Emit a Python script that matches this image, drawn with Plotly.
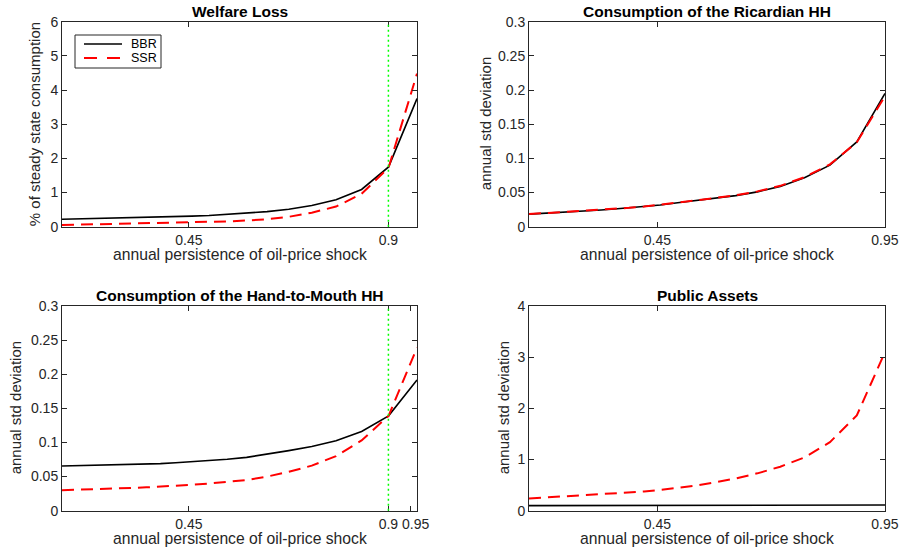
import plotly.graph_objects as go

# ---------------- data ----------------
x_left = [0.1636, 0.1817, 0.2013, 0.2224, 0.2451, 0.2695, 0.2957, 0.3237, 0.3538, 0.3858, 0.4199,
          0.4565, 0.4953, 0.5364, 0.5801, 0.6263, 0.6752, 0.7271, 0.7818, 0.8395, 0.9004, 0.9645]
x_right = [0.1680, 0.1860, 0.2055, 0.2264, 0.2489, 0.2730, 0.2989, 0.3265, 0.3560, 0.3875, 0.4210,
           0.4566, 0.4945, 0.5346, 0.5772, 0.6222, 0.6698, 0.7201, 0.7732, 0.8292, 0.8882, 0.9502]

welfare_bbr = [0.22, 0.225, 0.23, 0.235, 0.24, 0.245, 0.25, 0.26, 0.27, 0.28, 0.295,
               0.31, 0.33, 0.36, 0.39, 0.44, 0.51, 0.62, 0.79, 1.09, 1.75, 3.75]
welfare_ssr = [0.05, 0.055, 0.06, 0.065, 0.07, 0.075, 0.08, 0.09, 0.095, 0.105, 0.11,
               0.12, 0.135, 0.155, 0.18, 0.22, 0.29, 0.41, 0.59, 0.96, 1.73, 4.48]

ric_bbr = [0.0184, 0.0190, 0.0197, 0.0205, 0.0213, 0.0223, 0.0233, 0.0245, 0.0258, 0.0274, 0.0293,
           0.0318, 0.0350, 0.0380, 0.0415, 0.0455, 0.0510, 0.0590, 0.0715, 0.0900, 0.1240, 0.1950]
ric_ssr = [0.0185, 0.0192, 0.0199, 0.0207, 0.0216, 0.0225, 0.0235, 0.0247, 0.0260, 0.0276, 0.0295,
           0.0320, 0.0352, 0.0385, 0.0420, 0.0460, 0.0517, 0.0598, 0.0725, 0.0912, 0.1235, 0.1910]

htm_bbr = [0.0655, 0.0657, 0.0659, 0.0661, 0.0664, 0.0667, 0.0670, 0.0675, 0.0680, 0.0690, 0.0703,
           0.0718, 0.0735, 0.0755, 0.0782, 0.0825, 0.0880, 0.0940, 0.1025, 0.1160, 0.1390, 0.1915]
htm_ssr = [0.0300, 0.0303, 0.0307, 0.0311, 0.0316, 0.0321, 0.0327, 0.0334, 0.0342, 0.0352, 0.0365,
           0.0380, 0.0398, 0.0420, 0.0450, 0.0500, 0.0570, 0.0660, 0.0800, 0.1030, 0.1390, 0.2390]

assets_bbr = [0.100, 0.100, 0.100, 0.100, 0.101, 0.101, 0.101, 0.101, 0.102, 0.102, 0.102,
              0.103, 0.103, 0.103, 0.104, 0.104, 0.105, 0.105, 0.106, 0.107, 0.108, 0.110]
assets_ssr = [0.24, 0.25, 0.26, 0.27, 0.28, 0.29, 0.30, 0.315, 0.33, 0.35, 0.375,
              0.405, 0.44, 0.49, 0.555, 0.63, 0.73, 0.86, 1.04, 1.34, 1.86, 3.10]

series_names = ["BBR", "SSR"]
titles = ["Welfare Loss", "Consumption of the Ricardian HH",
          "Consumption of the Hand-to-Mouth HH", "Public Assets"]
xlabel = "annual persistence of oil-price shock"
ylabels = ["% of steady state consumption", "annual std deviation",
           "annual std deviation", "annual std deviation"]
xticks = [[0.45, 0.9], [0.45, 0.95], [0.45, 0.9, 0.95], [0.45, 0.95]]
# the crowded 0.95 label of the third panel is written separately, just right of its tick
xticklabels = [["0.45", "0.9"], ["0.45", "0.95"], ["0.45", "0.9", ""], ["0.45", "0.95"]]
crowded_tick = 0.95
yranges = [[0, 6], [0, 0.3], [0, 0.3], [0, 4]]
yticks_small = [0, 0.05, 0.1, 0.15, 0.2, 0.25, 0.3]
yticklabels_small = ["0", "0.05", "0.1", "0.15", "0.2", "0.25", "0.3"]
vline_x = 0.9

# ---------------- figure ----------------
W, H = 901, 552
FONT = "Liberation Sans, Arial, Helvetica, sans-serif"
AXC = "#262626"

black = dict(color="black", width=1.6)
red = dict(color="#ff0000", width=2, dash="12px,7px")

panels = [
    (x_left, welfare_bbr, welfare_ssr),
    (x_right, ric_bbr, ric_ssr),
    (x_left, htm_bbr, htm_ssr),
    (x_right, assets_bbr, assets_ssr),
]

fig = go.Figure()
for i, (xs, yb, ys) in enumerate(panels):
    ax = "" if i == 0 else str(i + 1)
    fig.add_trace(go.Scatter(x=xs, y=yb, mode="lines", line=black, name=series_names[0],
                             showlegend=False, xaxis="x" + ax, yaxis="y" + ax))
    fig.add_trace(go.Scatter(x=xs, y=ys, mode="lines", line=red, name=series_names[1],
                             showlegend=False, xaxis="x" + ax, yaxis="y" + ax))

# pixel boxes of the four axes (left, right, top, bottom)
boxes = [(62, 417, 21.7, 226.7), (529, 885, 21.7, 226.7),
         (62, 417, 306, 510.7), (529, 885, 306, 510.7)]

common = dict(showline=True, mirror="ticks", linecolor=AXC, linewidth=1,
              ticks="inside", ticklen=5, tickcolor=AXC, tickwidth=1,
              tickfont=dict(family=FONT, size=14, color=AXC),
              showgrid=False, zeroline=False, automargin=False)

layout = dict(width=W, height=H, margin=dict(l=0, r=0, t=0, b=0, autoexpand=False),
              paper_bgcolor="white", plot_bgcolor="white",
              font=dict(family=FONT, color=AXC),
              showlegend=False)

annotations = []
shapes = []
for i, (l, r, t, b) in enumerate(boxes):
    ax = "" if i == 0 else str(i + 1)
    xs = panels[i][0]
    xd = [l / W, r / W]
    yd = [1 - b / H, 1 - t / H]
    layout["xaxis" + ax] = dict(common, domain=xd, range=[min(xs), max(xs)],
                                tickvals=xticks[i], ticktext=xticklabels[i],
                                tickangle=0, anchor="y" + ax)
    ydict = dict(common, domain=yd, range=yranges[i], anchor="x" + ax)
    if yranges[i][1] < 1:
        ydict.update(tickvals=yticks_small, ticktext=yticklabels_small)
    else:
        ydict.update(tickmode="linear", tick0=0, dtick=1)
    layout["yaxis" + ax] = ydict
    cx = (l + r) / 2 / W
    annotations.append(dict(text="<b>" + titles[i] + "</b>", x=cx, y=1 - (t - 10.5) / H,
                            xref="paper", yref="paper", showarrow=False,
                            font=dict(family=FONT, size=15.5, color="black"),
                            xanchor="center", yanchor="middle"))
    annotations.append(dict(text=xlabel, x=cx, y=1 - (b + 28) / H,
                            xref="paper", yref="paper", showarrow=False,
                            font=dict(family=FONT, size=15.7, color=AXC),
                            xanchor="center", yanchor="middle"))
    ylx = [34, 485, 15, 503][i]
    annotations.append(dict(text=ylabels[i], x=ylx / W, y=1 - (t + b) / 2 / H,
                            xref="paper", yref="paper", showarrow=False, textangle=-90,
                            font=dict(family=FONT, size=15, color=AXC),
                            xanchor="center", yanchor="middle"))
    if i in (0, 2):
        shapes.append(dict(type="line", xref="x" + ax, yref="y" + ax + " domain",
                           x0=vline_x, x1=vline_x, y0=0, y1=1,
                           line=dict(color="#00ff00", width=1.5, dash="2px,3px")))
    if i == 2:
        annotations.append(dict(text=str(crowded_tick), x=crowded_tick, xref="x" + ax,
                                y=1 - (b + 13.5) / H, yref="paper", showarrow=False,
                                xanchor="center", yanchor="middle", xshift=5,
                                font=dict(family=FONT, size=14, color=AXC)))

# legend box (drawn like the MATLAB legend of the first panel)
lg = dict(l=75, r=161, t=35, b=68)
shapes.append(dict(type="rect", xref="paper", yref="paper",
                   x0=lg["l"] / W, x1=lg["r"] / W, y0=1 - lg["b"] / H, y1=1 - lg["t"] / H,
                   line=dict(color=AXC, width=1), fillcolor="white", layer="above"))
for k, (name, style, ypix) in enumerate([(series_names[0], black, 44), (series_names[1], red, 58)]):
    shapes.append(dict(type="line", xref="paper", yref="paper",
                       x0=84 / W, x1=122 / W, y0=1 - ypix / H, y1=1 - ypix / H,
                       line=dict(color=style["color"], width=style["width"],
                                 dash="13px,10px" if k == 1 else "solid"),
                       layer="above"))
    annotations.append(dict(text=name, x=129 / W, y=1 - ypix / H, xref="paper", yref="paper",
                            showarrow=False, xanchor="left", yanchor="middle",
                            font=dict(family=FONT, size=12.5, color="black")))

layout["annotations"] = annotations
layout["shapes"] = shapes

fig.update_layout(**layout)
fig.write_html("out.html", config={"displayModeBar": False},
               post_script="document.body.style.margin='0px';document.body.style.overflow='hidden';")
